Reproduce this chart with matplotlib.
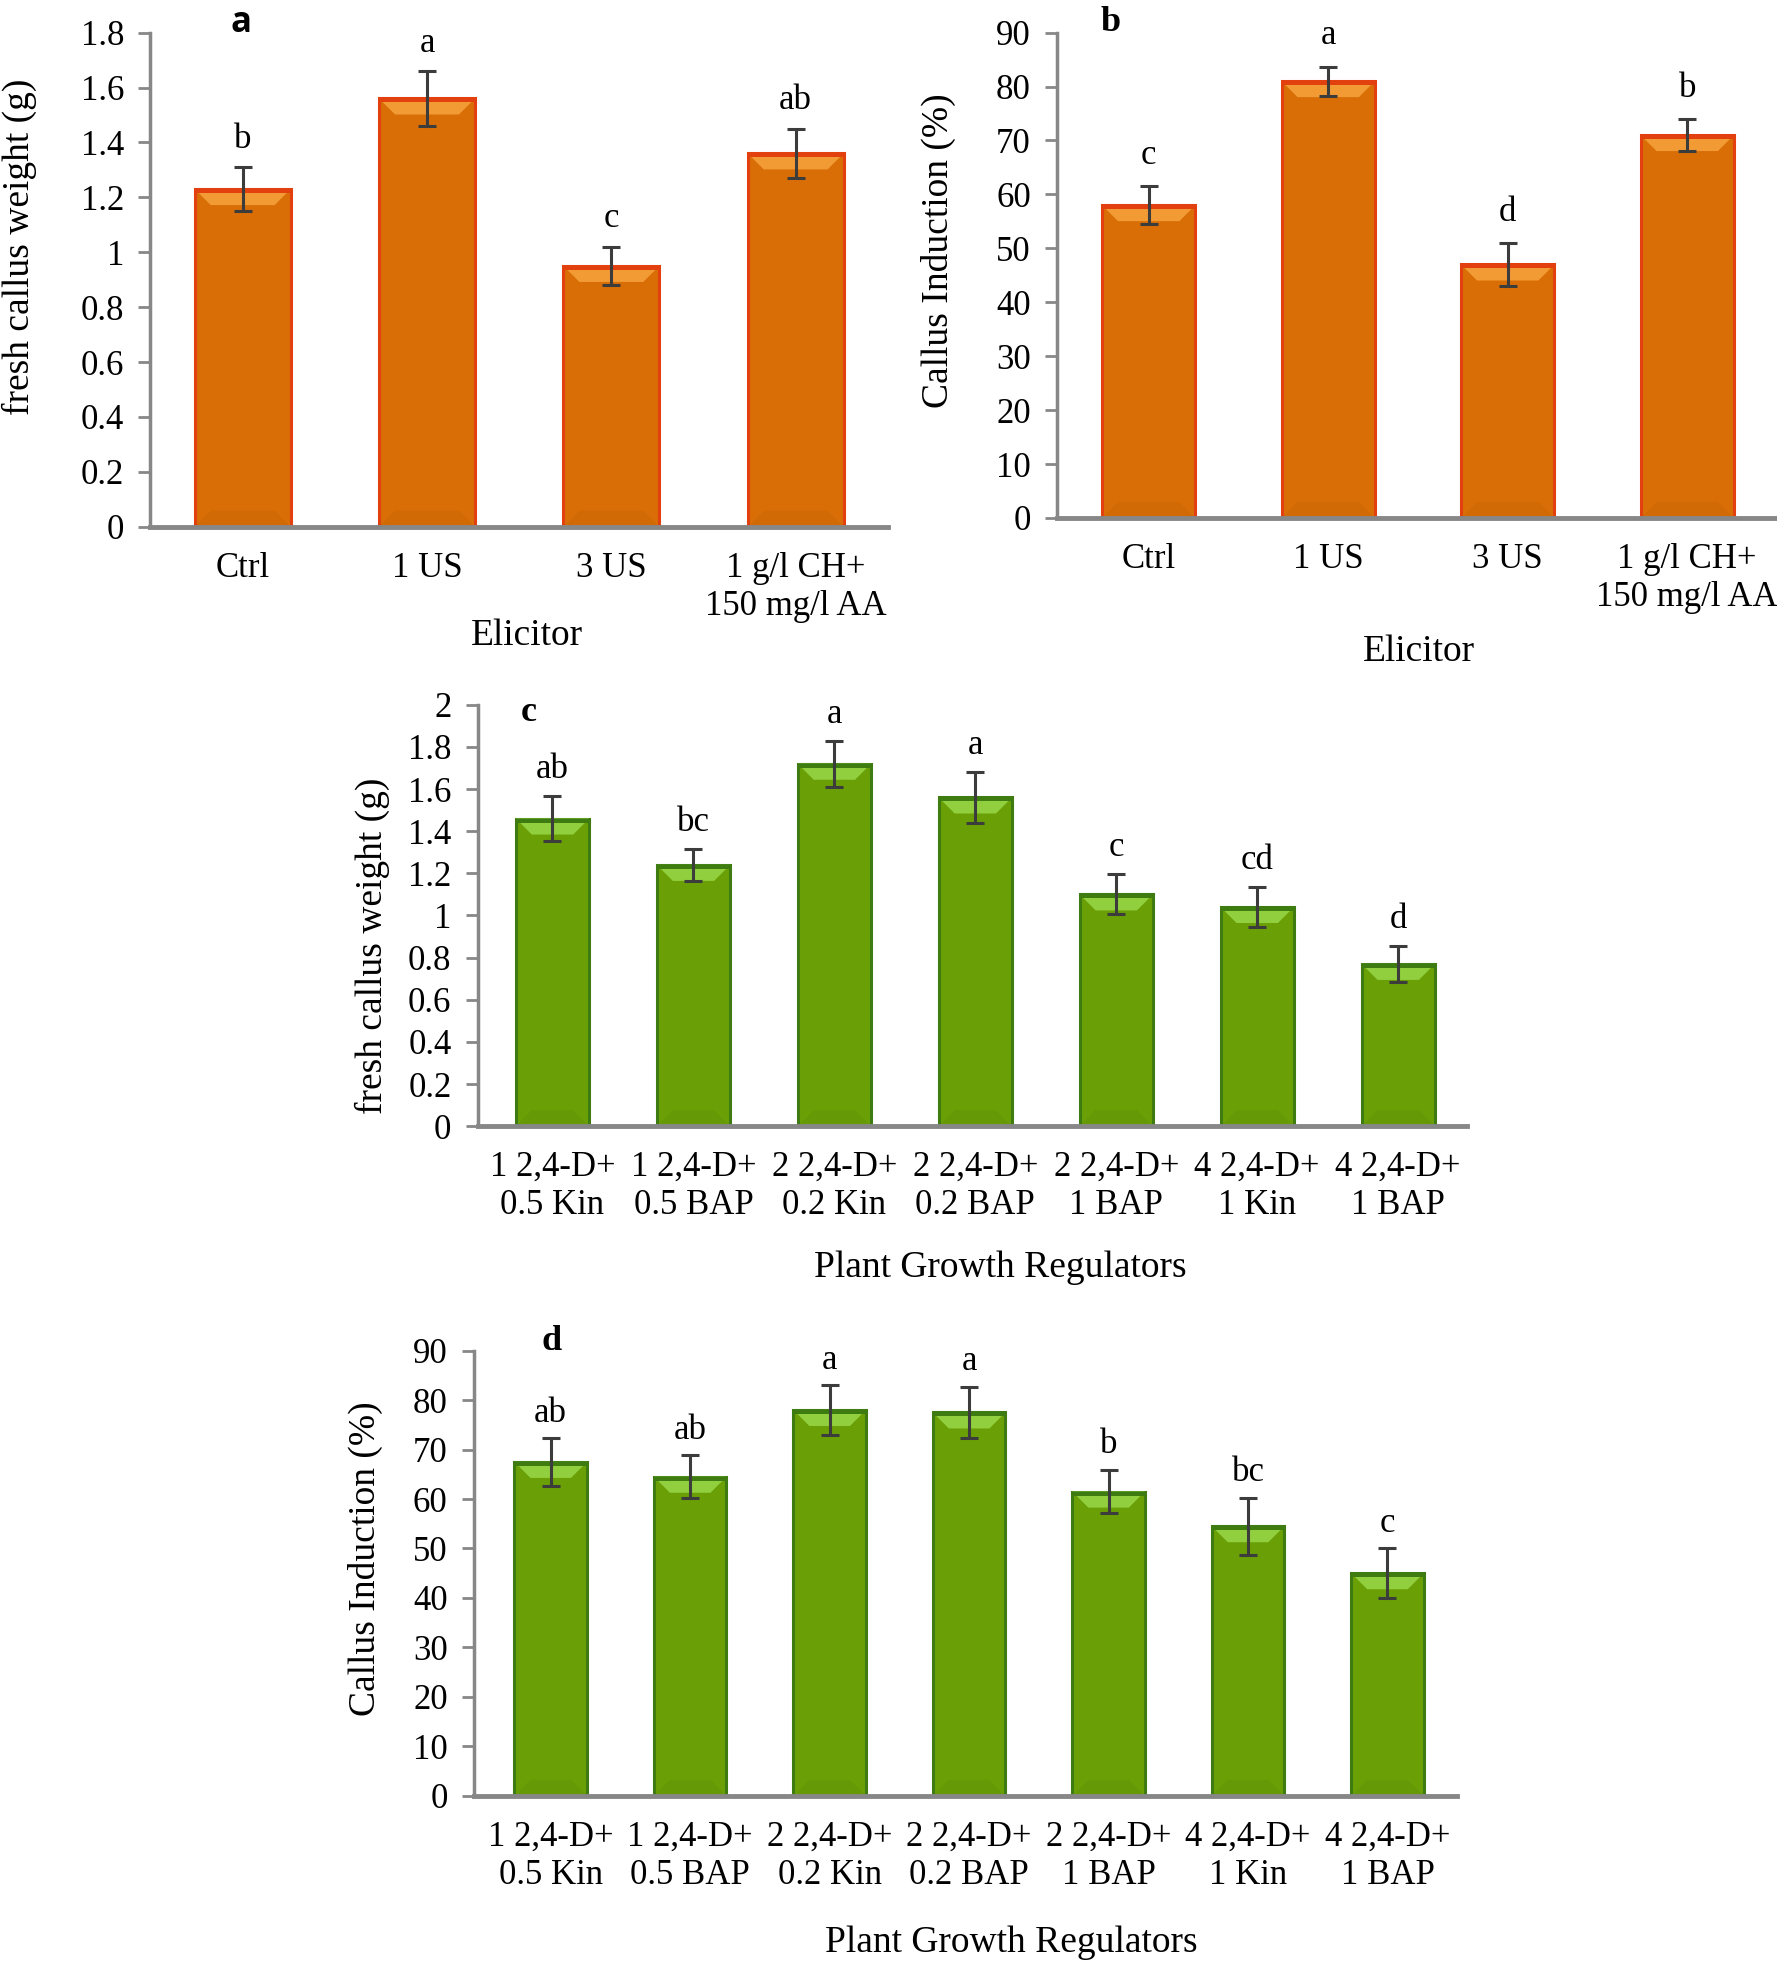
import matplotlib
matplotlib.use("Agg")
import matplotlib.pyplot as plt
from matplotlib.patches import Polygon
import numpy as np

plt.rcParams['font.family'] = ['Liberation Serif', 'DejaVu Serif']

# ---------------- data ----------------
elicitors = ["Ctrl", "1 US", "3 US", "1 g/l CH+\n150 mg/l AA"]
weight_elic = [1.23, 1.56, 0.95, 1.36]
weight_elic_err = [0.08, 0.10, 0.07, 0.09]
weight_elic_letters = ["b", "a", "c", "ab"]

induction_elic = [58.0, 81.0, 47.0, 71.0]
induction_elic_err = [3.5, 2.7, 4.0, 3.0]
induction_elic_letters = ["c", "a", "d", "b"]

pgr = ["1 2,4-D+\n0.5 Kin", "1 2,4-D+\n0.5 BAP", "2 2,4-D+\n0.2 Kin",
       "2 2,4-D+\n0.2 BAP", "2 2,4-D+\n1 BAP", "4 2,4-D+\n1 Kin",
       "4 2,4-D+\n1 BAP"]
weight_pgr = [1.46, 1.24, 1.72, 1.56, 1.10, 1.04, 0.77]
weight_pgr_err = [0.105, 0.075, 0.11, 0.12, 0.095, 0.095, 0.085]
weight_pgr_letters = ["ab", "bc", "a", "a", "c", "cd", "d"]

induction_pgr = [67.5, 64.5, 78.0, 77.5, 61.5, 54.5, 45.0]
induction_pgr_err = [4.8, 4.3, 5.0, 5.2, 4.4, 5.8, 5.0]
induction_pgr_letters = ["ab", "ab", "a", "a", "b", "bc", "c"]

W, H = 1777, 1966
fig = plt.figure(figsize=(W / 100, H / 100), dpi=100)

ORANGE = dict(fill="#D96E06", edge="#E2400E", light="#F7A43E", dark="#C56205")
GREEN = dict(fill="#6AA006", edge="#3E7C12", light="#98D84A", dark="#5E9005")
AXIS_GRAY = "#878787"


def draw_panel(rect_px, cats, vals, errs, letters, ymax, ystep, ylabel, xlabel,
               colors, ylab_pos, xlab_pos, tick_fmt, xlim, letter_off):
    l, r, t, b = rect_px
    ax = fig.add_axes([l / W, 1 - b / H, (r - l) / W, (b - t) / H])
    n = len(cats)
    x = np.arange(n)
    width = 0.52
    ax.set_xlim(*xlim)
    ax.set_ylim(0, ymax)
    ax.bar(x, vals, width=width, color=colors["fill"], edgecolor=colors["edge"],
           linewidth=2.2, zorder=2)
    # bevel highlights (top light, bottom dark) in pixel-scaled sizes
    px_y = ymax / (b - t)
    px_x = (xlim[1] - xlim[0]) / (r - l)
    band = 16 * px_y
    inset = 16 * px_x
    for xi, v in zip(x, vals):
        x0, x1 = xi - width / 2, xi + width / 2
        ax.add_patch(Polygon([(x0, v), (x1, v), (x1 - inset, v - band),
                              (x0 + inset, v - band)], closed=True,
                             facecolor=colors["light"], edgecolor="none",
                             alpha=0.85, zorder=3))
        ax.add_patch(Polygon([(x0, v), (x1, v), (x1, v - 4 * px_y), (x0, v - 4 * px_y)],
                             closed=True, facecolor=colors["edge"],
                             edgecolor="none", zorder=3))
        ax.add_patch(Polygon([(x0, 0), (x1, 0), (x1 - inset, band),
                              (x0 + inset, band)], closed=True,
                             facecolor=colors["dark"], edgecolor="none",
                             alpha=0.4, zorder=3))
    ax.errorbar(x, vals, yerr=errs, fmt="none", ecolor="#3C3C3C",
                elinewidth=2.2, capsize=6.5, capthick=2.2, zorder=4)
    for xi, v, e, lt in zip(x, vals, errs, letters):
        ax.annotate(lt, (xi, v + e), xytext=(0, letter_off), textcoords="offset points",
                    ha="center", va="baseline", fontsize=25)
    ax.set_xticks(x)
    ax.set_xticklabels(cats, fontsize=25, linespacing=1.2)
    ax.tick_params(axis="x", length=0, pad=18)
    yt = np.arange(0, ymax + ystep / 2, ystep)
    ax.set_yticks(yt)
    ax.set_yticklabels([tick_fmt(v) for v in yt], fontsize=25)
    ax.tick_params(axis="y", length=9, width=2, color=AXIS_GRAY, pad=10)
    for s in ("top", "right"):
        ax.spines[s].set_visible(False)
    for s in ("left", "bottom"):
        ax.spines[s].set_color(AXIS_GRAY)
        ax.spines[s].set_linewidth(2.5)
    ax.spines["bottom"].set_linewidth(3.5)
    ax.spines["bottom"].set_zorder(5)
    ax.set_ylabel(ylabel, fontsize=27)
    ax.yaxis.set_label_coords(*ylab_pos)
    ax.yaxis.label.set_va("center")
    ax.set_xlabel(xlabel, fontsize=27)
    ax.xaxis.set_label_coords(*xlab_pos)
    ax.xaxis.label.set_va("center")
    return ax


def fmt_w(v):
    s = f"{v:.1f}"
    if s.endswith(".0"):
        s = s[:-2]
    return s


def fmt_i(v):
    return f"{int(round(v))}"


S = 1777 / 1417

axa = draw_panel((120 * S, 708 * S, 26 * S, 420 * S), elicitors, weight_elic,
                 weight_elic_err, weight_elic_letters, 1.8, 0.2,
                 "fresh callus weight (g)", "Elicitor", ORANGE,
                 (-0.178, 0.567), (0.51, -0.221), fmt_w, (-0.5, 3.5), 14)
axb = draw_panel((843 * S, 1417 * S, 26 * S, 413 * S), elicitors, induction_elic,
                 induction_elic_err, induction_elic_letters, 90, 10,
                 "Callus Induction (%)", "Elicitor", ORANGE,
                 (-0.165, 0.55), (0.503, -0.276), fmt_i, (-0.51, 3.5), 16)
axc = draw_panel((381 * S, 1170 * S, 562 * S, 898 * S), pgr, weight_pgr,
                 weight_pgr_err, weight_pgr_letters, 2.0, 0.2,
                 "fresh callus weight (g)", "Plant Growth Regulators", GREEN,
                 (-0.1065, 0.428), (0.528, -0.337), fmt_w, (-0.53, 6.49), 13)
axd = draw_panel((378 * S, 1162 * S, 1077 * S, 1432 * S), pgr, induction_pgr,
                 induction_pgr_err, induction_pgr_letters, 90, 10,
                 "Callus Induction (%)", "Plant Growth Regulators", GREEN,
                 (-0.110, 0.532), (0.546, -0.330), fmt_i, (-0.55, 6.5), 12)

# panel letters
fig.text(192 * S / W, 1 - 18 * S / H, "a", fontsize=25, fontweight="bold",
         family=["Open Sans", "DejaVu Sans"], ha="center", va="center")
fig.text(886 * S / W, 1 - 18 * S / H, "b", fontsize=26, fontweight="bold",
         ha="center", va="center")
fig.text(422 * S / W, 1 - 568 * S / H, "c", fontsize=26, fontweight="bold",
         ha="center", va="center")
fig.text(440 * S / W, 1 - 1070 * S / H, "d", fontsize=26, fontweight="bold",
         ha="center", va="center")

fig.savefig("out.png", dpi=100, facecolor="white")
